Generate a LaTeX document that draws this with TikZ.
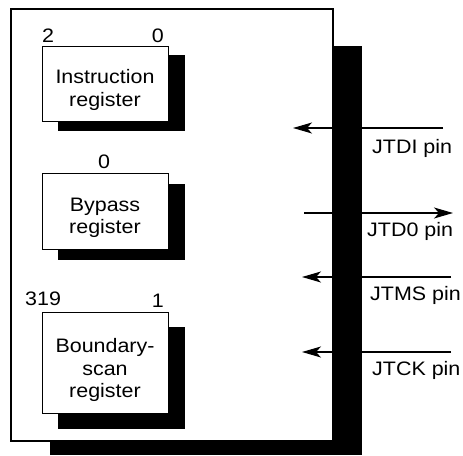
\documentclass[tikz,border=0pt]{standalone}
\usepackage{fontspec}
\setmainfont{Liberation Sans}[FakeStretch=1.1]
\usetikzlibrary{arrows.meta}
\begin{document}
\begin{tikzpicture}[x=1pt,y=-1pt,
  reg/.style={draw, fill=white, line width=1pt, minimum width=126pt, inner sep=0},
  lbl/.style={font=\fontsize{19.5}{22.5}\selectfont, align=center, inner sep=0},
  num/.style={font=\fontsize{19.5}{22}\selectfont, inner sep=0},
  pinlbl/.style={font=\fontsize{19.5}{22}\selectfont, inner sep=0, anchor=base west},
  sig/.style={line width=1.2pt, -{Stealth[length=19pt,width=11pt,inset=5pt]}}]
\useasboundingbox (0,0) rectangle (463,455);
% chip shadow and outline
\fill (50,46) rectangle (362,455);
\node[draw, fill=white, line width=1.2pt, minimum width=322pt, minimum height=432pt, inner sep=0] (chip) at (172,225) {};
% instruction register
\fill (58,55) rectangle (185,131);
\node[reg, minimum height=75pt] (ir) at (105,83.5) {};
\node[lbl] (irt) at (105,90) {Instruction\\register};
\node[num, anchor=base west] (ir2) at (42,42) {2};
\node[num, anchor=base east] (ir0) at (164,42) {0};
% bypass register
\fill (58,184) rectangle (185,260);
\node[reg, minimum height=75.5pt] (bp) at (105,211.5) {};
\node[lbl] (bpt) at (105,218) {Bypass\\register};
\node[num, anchor=base] (bp0) at (104,168) {0};
% boundary-scan register
\fill (58,327) rectangle (185,429);
\node[reg, minimum height=101pt] (bs) at (105,362.8) {};
\node[lbl] (bst) at (105,370) {Boundary-\\scan\\register};
\node[num, anchor=base west] (bs319) at (25,305) {319};
\node[num, anchor=base east] (bs1) at (164,307) {1};
% pins
\coordinate (tdiA) at (443,128); \coordinate (tdiB) at (293,128);
\coordinate (tdoA) at (304,213); \coordinate (tdoB) at (453,213);
\coordinate (tmsA) at (451,277); \coordinate (tmsB) at (302,277);
\coordinate (tckA) at (451,352); \coordinate (tckB) at (302,352);
\draw[sig] (tdiA) -- (tdiB);
\draw[sig] (tdoA) -- (tdoB);
\draw[sig] (tmsA) -- (tmsB);
\draw[sig] (tckA) -- (tckB);
\node[pinlbl] (tdi) at (372,153) {JTDI pin};
\node[pinlbl] (tdo) at (367,236) {JTD0 pin};
\node[pinlbl] (tms) at (370,300) {JTMS pin};
\node[pinlbl] (tck) at (372,375) {JTCK pin};
\end{tikzpicture}
\end{document}
